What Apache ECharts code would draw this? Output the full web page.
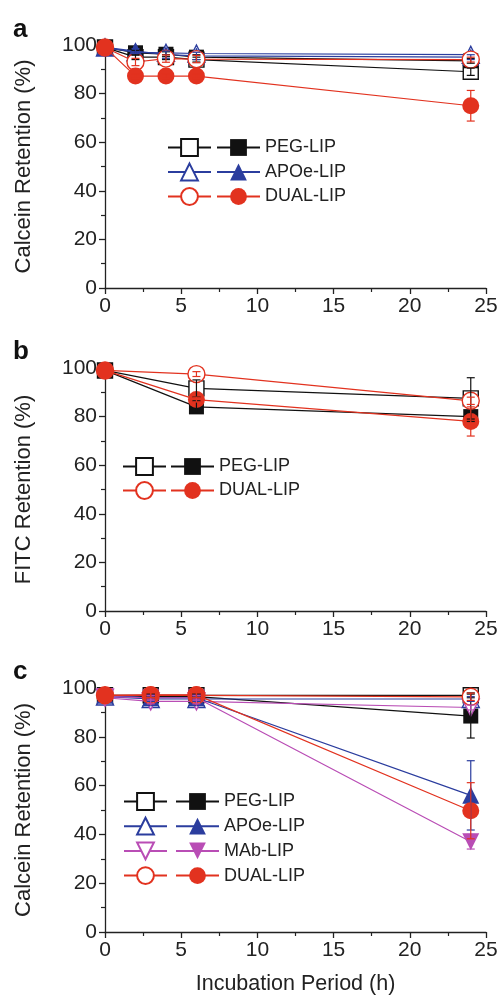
<!DOCTYPE html>
<html><head><meta charset="utf-8">
<script src="https://cdn.jsdelivr.net/npm/echarts@6.0.0/dist/echarts.min.js"></script>
<style>html,body{margin:0;padding:0;background:#fff}#c{width:501px;height:999px}</style>
</head><body><div id="c"></div>
<script>
// ---------- Panel a (Calcein retention) ----------
const timesA = [0, 2, 4, 6, 24];
const pegOpenA = [99, 95, 95, 94, 89];
const pegOpenSdA = [0, 1, 1, 1, 1.5];
const pegFillA = [99, 96.8, 96.2, 95, 93.5];
const pegFillSdA = [0, 1, 1, 1, 1];
const apoOpenA = [99, 97, 96.8, 96.5, 96];
const apoOpenSdA = [0, 0, 0, 0, 0];
const apoFillA = [99, 97.5, 96, 95.5, 95];
const apoFillSdA = [0, 1, 1.5, 1.5, 1];
const dualOpenA = [99, 93, 94.4, 94.2, 94];
const dualOpenSdA = [0, 1.5, 1.5, 1.5, 1];
const dualFillA = [99, 87.2, 87.2, 87.2, 75];
const dualFillSdA = [0, 1, 1, 1, 6.3];

// ---------- Panel b (FITC retention) ----------
const timesB = [0, 6, 24];
const pegOpenB = [99, 91.6, 87.5];
const pegOpenSdB = [0, 3.5, 8.5];
const pegFillB = [99, 84, 80];
const pegFillSdB = [0, 2.5, 2];
const dualOpenB = [99, 97.5, 86.5];
const dualOpenSdB = [0, 1, 1.5];
const dualFillB = [99, 87, 78];
const dualFillSdB = [0, 1, 6];

// ---------- Panel c (Calcein retention) ----------
const timesC = [0, 3, 6, 24];
const pegOpenC = [97, 97, 97, 97];
const pegOpenSdC = [0, 0.5, 0.5, 1];
const pegFillC = [97, 96.5, 96.5, 88.5];
const pegFillSdC = [0, 1, 1, 9];
const apoOpenC = [96.5, 95.5, 95.5, 95.5];
const apoOpenSdC = [0, 1, 1, 1];
const apoFillC = [97, 96, 96, 56];
const apoFillSdC = [0, 1, 1, 14.2];
const mabOpenC = [96, 94.5, 94.5, 92];
const mabOpenSdC = [0, 1, 1, 1];
const mabFillC = [96.5, 96, 96, 37];
const mabFillSdC = [0, 1, 1, 3];
const dualOpenC = [97, 97, 97, 96.4];
const dualOpenSdC = [0, 1, 1, 1.5];
const dualFillC = [97, 97.2, 97.2, 49.7];
const dualFillSdC = [0, 1, 1, 11.5];

// ---------- Axis ticks / labels ----------
const xTicks = {min: 0, max: 25, interval: 5};
const yTicks = {min: 0, max: 100, interval: 20};
const yTitles = ['Calcein Retention (%)', 'FITC Retention (%)', 'Calcein Retention (%)'];
const xTitle = 'Incubation Period (h)';
const panelLetters = ['a', 'b', 'c'];
const legendNames = {
  a: ['PEG-LIP', 'APOe-LIP', 'DUAL-LIP'],
  b: ['PEG-LIP', 'DUAL-LIP'],
  c: ['PEG-LIP', 'APOe-LIP', 'MAb-LIP', 'DUAL-LIP']
};

// ---------- styles ----------
const C = {peg: '#111111', apo: '#2b3d9e', mab: '#b94db5', dual: '#e2321f'};
const FONT = 'Liberation Sans, Arial, Helvetica, sans-serif';
const grids = [
  {left: 105, top: 45, width: 381, height: 243},
  {left: 105, top: 368, width: 381, height: 243},
  {left: 105, top: 688, width: 381, height: 244}
];

function line(name, idx, xs, ys, color, symbol, open, rot, z) {
  return {
    type: 'line', name: name, xAxisIndex: idx, yAxisIndex: idx,
    data: xs.map((x, i) => [x, ys[i]]),
    symbol: symbol, symbolSize: symbol === 'rect' ? 15 : 17, symbolRotate: rot || 0,
    lineStyle: {color: color, width: 1.2},
    itemStyle: open ? {color: '#ffffff', borderColor: color, borderWidth: 1.4}
                    : {color: color, borderColor: color, borderWidth: 0},
    z: z, animation: false, silent: true
  };
}
function err(idx, xs, ys, sd, color, z) {
  const d = [];
  xs.forEach((x, i) => { if (sd[i] > 0) d.push([x, ys[i] - sd[i], ys[i] + sd[i]]); });
  return {
    type: 'custom', xAxisIndex: idx, yAxisIndex: idx, data: d, z: z, silent: true, animation: false,
    encode: {x: 0, y: [1, 2]},
    renderItem(params, api) {
      const x = api.value(0);
      const lo = api.coord([x, api.value(1)]);
      const hi = api.coord([x, api.value(2)]);
      const w = 4;
      const st = {stroke: color, lineWidth: 1.2};
      return {type: 'group', children: [
        {type: 'line', shape: {x1: lo[0], y1: lo[1], x2: hi[0], y2: hi[1]}, style: st},
        {type: 'line', shape: {x1: lo[0] - w, y1: lo[1], x2: lo[0] + w, y2: lo[1]}, style: st},
        {type: 'line', shape: {x1: hi[0] - w, y1: hi[1], x2: hi[0] + w, y2: hi[1]}, style: st}
      ]};
    }
  };
}

const series = [
  // a
  line('a PEG-LIP o', 0, timesA, pegOpenA, C.peg, 'rect', true, 0, 2),
  line('a PEG-LIP', 0, timesA, pegFillA, C.peg, 'rect', false, 0, 3),
  line('a APOe-LIP o', 0, timesA, apoOpenA, C.apo, 'triangle', true, 0, 4),
  line('a APOe-LIP', 0, timesA, apoFillA, C.apo, 'triangle', false, 0, 5),
  line('a DUAL-LIP o', 0, timesA, dualOpenA, C.dual, 'circle', true, 0, 6),
  line('a DUAL-LIP', 0, timesA, dualFillA, C.dual, 'circle', false, 0, 7),
  err(0, timesA, pegOpenA, pegOpenSdA, C.peg, 10),
  err(0, timesA, pegFillA, pegFillSdA, C.peg, 10),
  err(0, timesA, apoFillA, apoFillSdA, C.apo, 10),
  err(0, timesA, dualOpenA, dualOpenSdA, C.dual, 10),
  err(0, timesA, dualFillA, dualFillSdA, C.dual, 10),
  // b
  line('b PEG-LIP o', 1, timesB, pegOpenB, C.peg, 'rect', true, 0, 2),
  line('b PEG-LIP', 1, timesB, pegFillB, C.peg, 'rect', false, 0, 3),
  line('b DUAL-LIP o', 1, timesB, dualOpenB, C.dual, 'circle', true, 0, 6),
  line('b DUAL-LIP', 1, timesB, dualFillB, C.dual, 'circle', false, 0, 7),
  err(1, timesB, pegOpenB, pegOpenSdB, C.peg, 10),
  err(1, timesB, pegFillB, pegFillSdB, C.peg, 10),
  err(1, timesB, dualOpenB, dualOpenSdB, C.dual, 10),
  err(1, timesB, dualFillB, dualFillSdB, C.dual, 10),
  // c
  line('c PEG-LIP o', 2, timesC, pegOpenC, C.peg, 'rect', true, 0, 2),
  line('c PEG-LIP', 2, timesC, pegFillC, C.peg, 'rect', false, 0, 3),
  line('c APOe-LIP o', 2, timesC, apoOpenC, C.apo, 'triangle', true, 0, 4),
  line('c APOe-LIP', 2, timesC, apoFillC, C.apo, 'triangle', false, 0, 5),
  line('c MAb-LIP o', 2, timesC, mabOpenC, C.mab, 'triangle', true, 180, 4),
  line('c MAb-LIP', 2, timesC, mabFillC, C.mab, 'triangle', false, 180, 5),
  line('c DUAL-LIP o', 2, timesC, dualOpenC, C.dual, 'circle', true, 0, 6),
  line('c DUAL-LIP', 2, timesC, dualFillC, C.dual, 'circle', false, 0, 7),
  err(2, timesC, pegOpenC, pegOpenSdC, C.peg, 10),
  err(2, timesC, pegFillC, pegFillSdC, C.peg, 10),
  err(2, timesC, apoOpenC, apoOpenSdC, C.apo, 10),
  err(2, timesC, apoFillC, apoFillSdC, C.apo, 10),
  err(2, timesC, mabOpenC, mabOpenSdC, C.mab, 10),
  err(2, timesC, mabFillC, mabFillSdC, C.mab, 10),
  err(2, timesC, dualOpenC, dualOpenSdC, C.dual, 10),
  err(2, timesC, dualFillC, dualFillSdC, C.dual, 10)
];

const axisLineStyle = {color: '#222', width: 1.3};
const xAxes = grids.map((g, i) => ({
  type: 'value', gridIndex: i, min: xTicks.min, max: xTicks.max, interval: xTicks.interval,
  axisLine: {show: true, onZero: false, lineStyle: axisLineStyle},
  axisTick: {show: true, inside: false, length: 6, lineStyle: axisLineStyle},
  minorTick: {show: true, splitNumber: 2, length: 4, lineStyle: {color: '#222', width: 1.2}},
  splitLine: {show: false},
  axisLabel: {fontSize: 21, color: '#222', fontFamily: FONT, margin: 8, showMinLabel: true, showMaxLabel: true},
  name: i === 2 ? xTitle : '', nameLocation: 'middle', nameGap: 41,
  nameTextStyle: {fontSize: 21.5, color: '#222', fontFamily: FONT}
}));
const yAxes = grids.map((g, i) => ({
  type: 'value', gridIndex: i, min: yTicks.min, max: yTicks.max, interval: yTicks.interval,
  axisLine: {show: true, onZero: false, lineStyle: axisLineStyle},
  axisTick: {show: true, inside: false, length: 6, lineStyle: axisLineStyle},
  minorTick: {show: true, splitNumber: 2, length: 4, lineStyle: {color: '#222', width: 1.2}},
  splitLine: {show: false},
  axisLabel: {fontSize: 21, color: '#222', fontFamily: FONT, margin: 8, showMinLabel: true, showMaxLabel: true},
  name: yTitles[i], nameLocation: 'middle', nameGap: 70, nameRotate: 90,
  nameTextStyle: {fontSize: 22, color: '#222', fontFamily: FONT}
}));

function legendPair(panel, names, openLeft, fillLeft, top, gap) {
  const common = {
    orient: 'vertical', itemWidth: 43, itemHeight: 21, itemGap: gap, top: top,
    selectedMode: false, padding: 0,
    textStyle: {fontSize: 18, lineHeight: 21, height: 21, color: '#222', fontFamily: FONT}
  };
  return [
    Object.assign({}, common, {left: openLeft, data: names.map(n => panel + ' ' + n + ' o'), formatter: () => ''}),
    Object.assign({}, common, {left: fillLeft, data: names.map(n => panel + ' ' + n), formatter: (n) => n.slice(2)})
  ];
}

const option = {
  backgroundColor: '#ffffff',
  animation: false,
  title: [
    {text: panelLetters[0], left: 8, top: 12},
    {text: panelLetters[1], left: 8, top: 334},
    {text: panelLetters[2], left: 8, top: 654}
  ].map(t => Object.assign(t, {textStyle: {fontSize: 26, fontWeight: 'bold', color: '#111', fontFamily: FONT}})),
  grid: grids.map(g => Object.assign({outerBoundsMode: 'none', containLabel: false}, g)),
  xAxis: xAxes,
  yAxis: yAxes,
  legend: [].concat(
    legendPair('a', legendNames.a, 167, 216, 137, 3.5),
    legendPair('b', legendNames.b, 122, 170, 456, 3),
    legendPair('c', legendNames.c, 123, 175, 791, 3.7)
  ),
  series: series
};

const chart = echarts.init(document.getElementById('c'), null, {renderer: 'canvas'});
chart.setOption(option);
</script>
</body></html>
